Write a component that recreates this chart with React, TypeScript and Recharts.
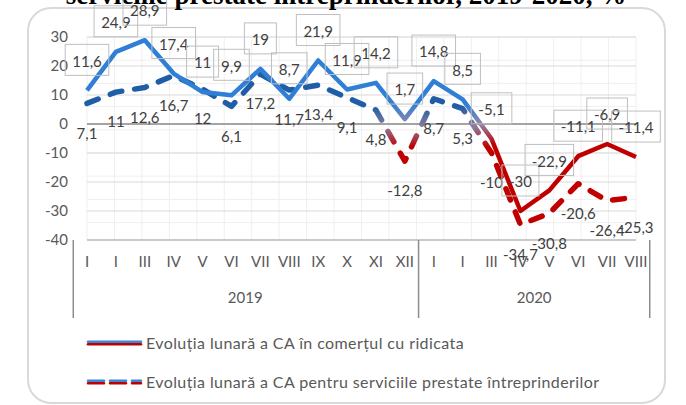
import React from "react";
import {
  LineChart,
  Line,
  XAxis,
  YAxis,
  CartesianGrid,
  ReferenceLine,
  LabelList,
} from "recharts";

const MONTHS = ["I", "I", "III", "IV", "V", "VI", "VII", "VIII", "IX", "X", "XI", "XII", "I", "I", "III", "IV", "V", "VI", "VII", "VIII"];
const YEARS = ["2019", "2020"];
const COMERT = [11.6, 24.9, 28.9, 17.4, 11, 9.9, 19, 8.7, 21.9, 11.9, 14.2, 1.7, 14.8, 8.5, -5.1, -30, -22.9, -11.1, -6.9, -11.4];
const SERVICII = [7.1, 11, 12.6, 16.7, 12, 6.1, 17.2, 11.7, 13.4, 9.1, 4.8, -12.8, 8.7, 5.3, -10, -34.7, -30.8, -20.6, -26.4, -25.3];
const Y_TICKS = [-40, -30, -20, -10, 0, 10, 20, 30];
const LEGEND = [
  "Evoluția lunară a CA în comerțul cu ridicata",
  "Evoluția lunară a CA pentru serviciile prestate întreprinderilor",
];
const TITLE = "serviciile prestate întreprinderilor, 2019-2020, %";

const data = MONTHS.map((m, i) => ({ name: m, comert: COMERT[i], servicii: SERVICII[i] }));

// layout
const W = 686;
const H = 405;
const MARGIN = { top: 37, right: 50, bottom: 80, left: 27 };
const YAXIS_W = 60;
const XAXIS_H = 85;
const PLOT_L = MARGIN.left + YAXIS_W;
const PLOT_R = W - MARGIN.right;
const PLOT_T = MARGIN.top;
const PLOT_B = H - MARGIN.bottom - XAXIS_H;
const BW = (PLOT_R - PLOT_L) / MONTHS.length;
const yOf = (v: number) => PLOT_T + ((30 - v) / 70) * (PLOT_B - PLOT_T);

const FONT = "Lato, 'Noto Sans', sans-serif";
const BLUE = "#2f7fd6";
const BLUE_DARK = "#1f5ea6";
const RED = "#c00000";

const fmt = (v: number) => String(v).replace(".", ",");

const minorY: number[] = [];
for (let v = -40; v <= 30; v += 2) minorY.push(v);
const vLines: number[] = [];
for (let i = 0; i <= MONTHS.length; i++) vLines.push(PLOT_L + i * BW);

function MonthTick(props: any) {
  const { x, y, payload } = props;
  const i = payload.index;
  const sep = (sx: number) => (
    <line x1={sx} x2={sx} y1={y} y2={y + 78} stroke="#8c8c8c" strokeWidth={1.5} />
  );
  return (
    <g>
      <text x={x} y={y + 22} dy="0.35em" textAnchor="middle" fontSize={15} fill="#595959" fontFamily={FONT}>
        {MONTHS[i]}
      </text>
      {i === 0 && sep(x - BW / 2)}
      {(i === 11 || i === MONTHS.length - 1) && sep(x + BW / 2)}
      {i === 5 && (
        <text x={x + BW / 2} y={y + 58} dy="0.35em" textAnchor="middle" fontSize={15} fill="#595959" fontFamily={FONT}>
          {YEARS[0]}
        </text>
      )}
      {i === 15 && (
        <text x={x + BW / 2} y={y + 58} dy="0.35em" textAnchor="middle" fontSize={15} fill="#595959" fontFamily={FONT}>
          {YEARS[1]}
        </text>
      )}
    </g>
  );
}

function textWidth(s: string) {
  let w = 0;
  for (const c of s) w += c === "," ? 3.6 : c === "-" ? 5 : 8;
  return w;
}

function BoxLabel(props: any) {
  const { x, y, value } = props;
  const s = fmt(value);
  const cy = y - 29;
  const tw = textWidth(s);
  return (
    <g>
      <rect x={x - tw / 2 - 8} y={cy - 17} width={tw + 16} height={31} fill="none" stroke="#bfbfbf" strokeWidth={1} />
      <text x={x} y={cy} dy="0.35em" textAnchor="middle" fontSize={15} fill="#404040" fontFamily={FONT}>
        {s}
      </text>
    </g>
  );
}

function PlainLabel(props: any) {
  const { x, y, value } = props;
  return (
    <text x={x} y={y + 30} dy="0.35em" textAnchor="middle" fontSize={15} fill="#404040" fontFamily={FONT}>
      {fmt(value)}
    </text>
  );
}

function LegendIcon({ dashed }: { dashed?: boolean }) {
  const dash = dashed ? "16 6" : undefined;
  return (
    <g>
      <line x1={88} x2={141} y1={-1.2} y2={-1.2} stroke="#3a86d8" strokeWidth={2.6} strokeDasharray={dash} strokeLinecap="round" />
      <line x1={88} x2={141} y1={1.2} y2={1.2} stroke={RED} strokeWidth={2.6} strokeDasharray={dash} strokeLinecap="round" />
    </g>
  );
}

export default function App() {
  return (
    <div style={{ position: "absolute", left: 0, top: 0, width: W, height: H, overflow: "hidden", background: "#fff" }}>
      <div
        style={{
          position: "absolute",
          left: 27,
          top: 7,
          width: 639,
          height: 397,
          boxSizing: "border-box",
          border: "2px solid #d9d9d9",
          borderRadius: 24,
        }}
      />
      <svg style={{ position: "absolute", left: 0, top: 0 }} width={W} height={20}>
        <text x={346} y={4} textAnchor="middle" fontSize={27} fontWeight="bold" fontFamily="'Liberation Serif', 'DejaVu Serif', serif" fill="#000">
          {TITLE}
        </text>
      </svg>
      <div style={{ position: "absolute", left: 0, top: 0 }}>
        <LineChart width={W} height={H} data={data} margin={MARGIN} style={{ fontFamily: FONT }}>
          <defs>
            <linearGradient id="gSolid" gradientUnits="userSpaceOnUse" x1={0} x2={0} y1={yOf(7)} y2={yOf(-7)}>
              <stop offset="0%" stopColor={BLUE} />
              <stop offset="50%" stopColor="#8f86a8" />
              <stop offset="100%" stopColor={RED} />
            </linearGradient>
            <linearGradient id="gDash" gradientUnits="userSpaceOnUse" x1={0} x2={0} y1={yOf(6)} y2={yOf(-8)}>
              <stop offset="0%" stopColor={BLUE_DARK} />
              <stop offset="50%" stopColor="#8c7c9c" />
              <stop offset="100%" stopColor={RED} />
            </linearGradient>
          </defs>
          <CartesianGrid stroke="#efefef" horizontalValues={minorY} verticalPoints={vLines} />
          <CartesianGrid stroke="#d9d9d9" horizontalValues={Y_TICKS} vertical={false} />
          <XAxis
            dataKey="name"
            height={XAXIS_H}
            interval={0}
            tickLine={false}
            tickSize={0}
            tickMargin={0}
            axisLine={{ stroke: "#bfbfbf", strokeWidth: 1.5 }}
            tick={<MonthTick />}
          />
          <YAxis
            width={YAXIS_W}
            domain={[-40, 30]}
            ticks={Y_TICKS}
            axisLine={false}
            tickLine={false}
            tickSize={0}
            tickMargin={19}
            tick={{ fontSize: 15, fill: "#595959", fontFamily: FONT }}
          />
          <ReferenceLine y={0} stroke="#8c8c8c" strokeWidth={1.5} />
          <Line
            type="linear"
            dataKey="servicii"
            stroke="url(#gDash)"
            strokeWidth={5.5}
            strokeDasharray="12 13"
            strokeLinecap="round"
            strokeLinejoin="round"
            dot={false}
            isAnimationActive={false}
          >
            <LabelList dataKey="servicii" content={<PlainLabel />} />
          </Line>
          <Line
            type="linear"
            dataKey="comert"
            stroke="url(#gSolid)"
            strokeWidth={4.5}
            strokeLinejoin="round"
            dot={false}
            isAnimationActive={false}
          >
            <LabelList dataKey="comert" content={<BoxLabel />} />
          </Line>
        </LineChart>
      </div>
      <svg style={{ position: "absolute", left: 0, top: 0 }} width={W} height={H}>
        {LEGEND.map((t, i) => (
          <g key={t} transform={`translate(0, ${343 + i * 39})`}>
            <LegendIcon dashed={i === 1} />
            <text x={146} y={0} dy="0.35em" fontSize={16} letterSpacing={0.4} fill="#595959" fontFamily={FONT}>
              {t}
            </text>
          </g>
        ))}
      </svg>
    </div>
  );
}
